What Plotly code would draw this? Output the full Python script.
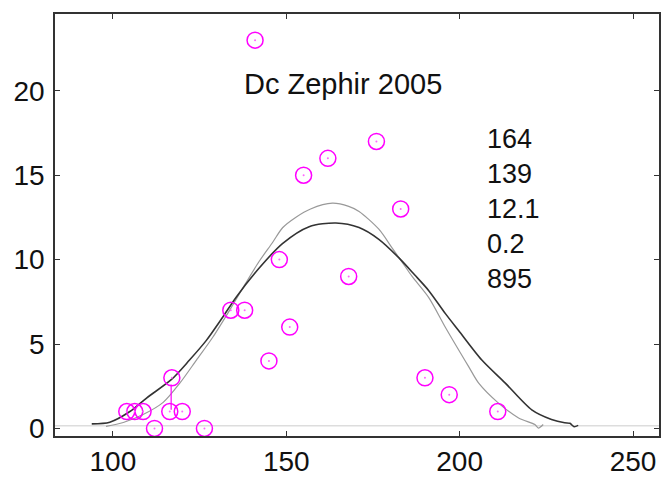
import plotly.graph_objects as go

# Observed data (magenta circles)
obs_x = [141, 155, 162, 176, 183, 168, 148, 134, 138, 151, 145, 190, 197, 211,
         104, 106.3, 108.7, 112, 116.4, 117, 120, 126.4]
obs_y = [23, 15, 16, 17, 13, 9, 10, 7, 7, 6, 4, 3, 2, 1,
         1, 1, 1, 0, 1, 3, 1, 0]

# short magenta stem
stem_x = [116.8, 116.8]
stem_y = [1.1, 2.6]

# dark fitted curve
dark_x = [93.9, 99.1, 104.9, 109.7, 116.9, 122.1, 126.9, 131.7, 135.5, 142.2,
          148.9, 156.6, 164.3, 171.0, 176.7, 182.5, 187.0, 191.1, 195.9, 199.7,
          206.4, 213.1, 220.8, 226.5, 230.3, 231.8, 233.0, 234.2]
dark_y = [0.27, 0.37, 1.0, 1.8, 2.9, 4.05, 5.2, 6.6, 7.76, 9.5,
          10.95, 11.95, 12.17, 11.9, 11.2, 10.1, 9.1, 8.16, 6.8, 5.8,
          4.05, 2.7, 1.1, 0.53, 0.33, 0.3, 0.1, 0.18]

# grey fitted curve
grey_x = [98.0, 103.0, 108.7, 114.5, 119.3, 124.1, 128.8, 133.6, 138.0, 142.2,
          146.0, 149.0, 152.7, 157.0, 163.3, 168.0, 171.0, 176.7, 180.5, 183.4,
          186.3, 191.1, 196.0, 202.6, 205.5, 211.2, 217.0, 221.7, 222.7, 224.1]
grey_y = [0.12, 0.35, 0.82, 1.54, 2.68, 4.05, 5.4, 6.98, 8.5, 9.9,
          11.0, 11.9, 12.5, 13.0, 13.34, 13.15, 12.85, 11.8, 10.7, 9.85,
          9.0, 7.75, 5.95, 3.66, 2.68, 1.5, 0.62, 0.23, 0.02, 0.23]

# baseline
base_x = [83.3, 257.5]
base_y = [0.15, 0.15]

title_text = "Dc Zephir 2005"
stats = ["164", "139", "12.1", "0.2", "895"]

x_ticks = [100, 150, 200, 250]
y_ticks = [0, 5, 10, 15, 20]

FONT = "Liberation Sans, Arial"

fig = go.Figure()
fig.add_trace(go.Scatter(x=base_x, y=base_y, mode="lines",
                         line=dict(color="#dddddd", width=1.5), hoverinfo="skip"))
fig.add_trace(go.Scatter(x=grey_x, y=grey_y, mode="lines",
                         line=dict(color="#999999", width=1.2, shape="spline", smoothing=0.8),
                         hoverinfo="skip"))
fig.add_trace(go.Scatter(x=dark_x, y=dark_y, mode="lines",
                         line=dict(color="#333333", width=1.6, shape="spline", smoothing=0.8),
                         hoverinfo="skip"))
fig.add_trace(go.Scatter(x=stem_x, y=stem_y, mode="lines",
                         line=dict(color="#ff00ff", width=1.2), hoverinfo="skip"))
fig.add_trace(go.Scatter(x=obs_x, y=obs_y, mode="markers",
                         marker=dict(symbol="circle-open", size=16, color="#ff00ff",
                                     line=dict(width=1.5, color="#ff00ff"))))
fig.add_trace(go.Scatter(x=obs_x, y=obs_y, mode="markers",
                         marker=dict(symbol="circle", size=2, color="#ff66ff")))

fig.add_annotation(x=166.5, y=20.4, xref="x", yref="y", text=title_text,
                   showarrow=False, font=dict(size=29, color="#111111", family=FONT))
fig.add_annotation(x=207.3, y=18.15, xref="x", yref="y", text="<br>".join(stats),
                   showarrow=False, xanchor="left", yanchor="top", align="left",
                   font=dict(size=27, color="#111111", family=FONT))

axis_common = dict(showgrid=False, zeroline=False, showline=True, linecolor="#333333",
                   linewidth=1.5, mirror="ticks", ticks="inside", ticklen=5,
                   tickcolor="#333333", tickwidth=1,
                   tickfont=dict(size=28, color="#111111", family=FONT))

fig.update_xaxes(range=[83.3, 257.5], tickvals=x_ticks, **axis_common)
fig.update_yaxes(range=[-0.45, 24.55], tickvals=y_ticks, ticklabelstandoff=3, **axis_common)

fig.update_layout(width=661, height=477, showlegend=False,
                  margin=dict(l=55, r=0, t=14, b=37),
                  plot_bgcolor="white", paper_bgcolor="white")

fig.write_html("out.html")
